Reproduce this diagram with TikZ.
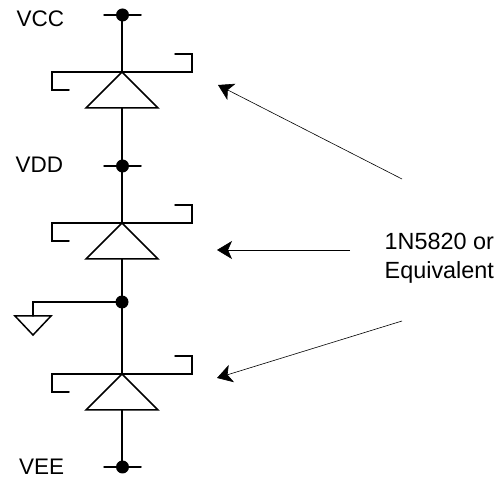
\documentclass[tikz,border=0pt]{standalone}
\usepackage{fontspec}
\setmainfont{Liberation Sans}
\usetikzlibrary{arrows.meta}
\tikzset{
  wire/.style={line width=1.5pt,line cap=round,line join=miter},
  dotnode/.style={circle,fill=black,inner sep=0pt,minimum size=13pt},
  pointer/.style={line width=0.6pt,-{Stealth[length=15pt,width=18pt,inset=4pt]}},
  lbl/.style={font=\fontsize{22.5}{26}\selectfont,inner sep=0pt,text=black}
}
\newcommand{\diode}[2]{%
  % #1 name, #2 bar y
  \coordinate (#1a) at (122,#2);
  \coordinate (#1l) at (86,#2+36);
  \coordinate (#1r) at (158,#2+36);
  \coordinate (#1b) at (122,#2+36);
  \draw[wire] (69,#2+18) -- (52,#2+18) -- (52,#2) -- (192,#2) -- (192,#2-18) -- (175,#2-18);
  \draw[wire] (#1a) -- (#1r) -- (#1l) -- cycle;
}
\begin{document}
\begin{tikzpicture}[x=1pt,y=-1pt]
\useasboundingbox (0,0) rectangle (504,478);
\diode{da}{72}
\diode{db}{223}
\diode{dc}{374}
\node[dotnode] (n1) at (122.5,15) {};
\node[dotnode] (n2) at (122.5,166) {};
\node[dotnode] (n3) at (122,302) {};
\node[dotnode] (n4) at (122.5,467) {};
\draw[wire] (104,15) -- (141,15);
\draw[wire] (104,166) -- (141,166);
\draw[wire] (104,467) -- (141,467);
\draw[wire] (122,15) -- (daa);
\draw[wire] (dab) -- (122,166);
\draw[wire] (122,166) -- (dba);
\draw[wire] (dbb) -- (n3.center);
\draw[wire] (n3.center) -- (dca);
\draw[wire] (dcb) -- (122,467);
\coordinate (g1) at (33,316);
\draw[wire] (n3.center) -- (33,302) -- (g1);
\draw[wire] (15,316) -- (51,316) -- (33,335) -- cycle;
\node[lbl,anchor=base west] (vcc) at (16.5,27) {VCC};
\node[lbl,anchor=base west] (vdd) at (15.5,173) {VDD};
\node[lbl,anchor=base west] (vee) at (19,474.5) {VEE};
\node[lbl,anchor=base west,font=\fontsize{23.4}{26}\selectfont] (t1) at (384.5,250) {1N5820 or};
\node[lbl,anchor=base west,font=\fontsize{23.4}{26}\selectfont] (t2) at (384.5,278.5) {Equivalent};
\coordinate (s1) at (402,179);
\coordinate (s2) at (350,250);
\coordinate (s3) at (402,321);
\coordinate (e1) at (218,85);
\coordinate (e2) at (217,250);
\coordinate (e3) at (217,378);
\draw[pointer] (s1) -- (e1);
\draw[pointer] (s2) -- (e2);
\draw[pointer] (s3) -- (e3);
\end{tikzpicture}
\end{document}
